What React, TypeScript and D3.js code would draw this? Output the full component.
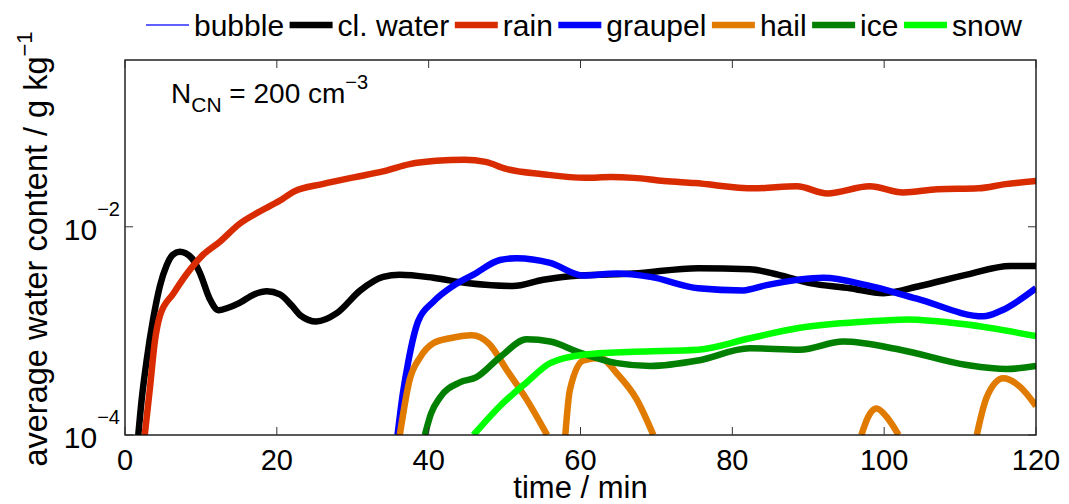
import React, {useEffect, useRef} from 'react';
import * as d3 from 'd3';

// time in minutes, values in g/kg
const rainT = [2.6, 3.3, 3.95, 4.6, 6.4, 8.1, 10.3, 12.5, 15.1, 17.8, 20.8, 22.3, 26, 30.3, 34, 37.5, 41, 44.7, 47.5, 50.2, 55, 60.6, 64, 67, 71, 75, 82.9, 88.5, 92.5, 98.1, 102.5, 107, 112.4, 116, 120];
const rainV = [1.0e-4, 2.9e-4, 8.1e-4, 1.4e-3, 2.3e-3, 3.5e-3, 5.4e-3, 7.2e-3, 1.07e-2, 1.41e-2, 1.86e-2, 2.19e-2, 2.57e-2, 3.0e-2, 3.4e-2, 4.0e-2, 4.3e-2, 4.4e-2, 4.2e-2, 3.6e-2, 3.2e-2, 2.95e-2, 3.0e-2, 2.95e-2, 2.75e-2, 2.63e-2, 2.34e-2, 2.45e-2, 2.09e-2, 2.45e-2, 2.14e-2, 2.29e-2, 2.34e-2, 2.57e-2, 2.75e-2];

const cloudT = [1.75, 2.2, 2.85, 3.7, 4.6, 5.5, 6.3, 7.2, 8.8, 9.9, 11.2, 12.3, 13.5, 15.1, 17, 18.7, 20.4, 22, 23.1, 25.2, 27.9, 31, 34, 36.2, 40.6, 45, 51.1, 55.1, 59.9, 66.9, 75.5, 82.3, 86, 90.2, 95.5, 99.9, 104.7, 110.9, 116.6, 120];
const cloudV = [1.0e-4, 2.2e-4, 5.2e-4, 1.29e-3, 2.7e-3, 4.3e-3, 5.4e-3, 5.75e-3, 5.0e-3, 3.55e-3, 2.0e-3, 1.58e-3, 1.66e-3, 1.86e-3, 2.24e-3, 2.4e-3, 2.24e-3, 1.74e-3, 1.41e-3, 1.23e-3, 1.48e-3, 2.45e-3, 3.3e-3, 3.47e-3, 3.24e-3, 2.88e-3, 2.7e-3, 3.1e-3, 3.4e-3, 3.55e-3, 4.0e-3, 3.9e-3, 3.47e-3, 2.88e-3, 2.57e-3, 2.3e-3, 2.7e-3, 3.47e-3, 4.2e-3, 4.2e-3];

const graupelT = [35.9, 36.6, 37.3, 38.6, 40.6, 43.2, 45.9, 49.4, 51.6, 56, 60.4, 64.8, 69.2, 75.5, 81.4, 84.5, 92, 97.7, 104.3, 113.1, 115.3, 120];
const graupelV = [1.0e-4, 2.5e-4, 5.0e-4, 1.23e-3, 1.9e-3, 2.7e-3, 3.47e-3, 4.8e-3, 5.0e-3, 4.5e-3, 3.4e-3, 3.55e-3, 3.3e-3, 2.57e-3, 2.45e-3, 2.75e-3, 3.24e-3, 2.75e-3, 2.04e-3, 1.38e-3, 1.55e-3, 2.57e-3];

// hail comes and goes: null marks a gap
const hailT = [36.2, 37.5, 38.9, 40.6, 42.8, 45.7, 47.9, 50.3, 52.9, 55.6, 56.8, 58, 58.6, 60.4, 62.6, 64.8, 67.4, 69.6, 83, 97, 97.9, 99, 100.3, 101.9, 107, 112.2, 113.5, 115.7, 117.9, 120];
const hailV = [1.0e-4, 3.4e-4, 5.6e-4, 7.6e-4, 8.5e-4, 9.1e-4, 7.6e-4, 4.2e-4, 2.2e-4, 1.0e-4, null, 1.0e-4, 2.7e-4, 5.2e-4, 5.5e-4, 3.9e-4, 2.2e-4, 1.0e-4, null, 1.0e-4, 1.5e-4, 1.8e-4, 1.5e-4, 1.0e-4, null, 1.0e-4, 2.3e-4, 3.5e-4, 2.9e-4, 1.9e-4];

const iceT = [39.5, 40.3, 41.5, 44.1, 46.3, 49.4, 52.9, 56, 59.9, 64.8, 69.2, 75.5, 82.3, 88.9, 94.6, 102.1, 110.9, 116.1, 120];
const iceV = [1.0e-4, 1.6e-4, 2.3e-4, 3.2e-4, 3.6e-4, 5.6e-4, 8.3e-4, 7.9e-4, 6.2e-4, 4.9e-4, 4.6e-4, 5.2e-4, 6.8e-4, 6.6e-4, 7.9e-4, 6.6e-4, 4.7e-4, 4.3e-4, 4.6e-4];

const snowT = [45.9, 49.4, 52.9, 56, 60.4, 67, 75.5, 82.3, 88.9, 97.7, 103, 110.9, 120];
const snowV = [1.0e-4, 1.9e-4, 3.2e-4, 4.9e-4, 5.9e-4, 6.3e-4, 6.6e-4, 8.5e-4, 1.07e-3, 1.23e-3, 1.29e-3, 1.15e-3, 8.9e-4];

const seriesNames = ['bubble', 'cl. water', 'rain', 'graupel', 'hail', 'ice', 'snow'];
const seriesColors = ['#2b2bff', '#000000', '#d92b00', '#0000ff', '#e07b00', '#007f00', '#00ff00'];
const seriesTimes: number[][] = [[], cloudT, rainT, graupelT, hailT, iceT, snowT];
const seriesValues: (number | null)[][] = [[], cloudV, rainV, graupelV, hailV, iceV, snowV];

const xTicks = [0, 20, 40, 60, 80, 100, 120];
const yTicks = [1e-4, 1e-2];
const yTickExp = ['\u22124', '\u22122'];

const W = 1069;
const H = 504;
const FONT = '"Liberation Sans", Arial, Helvetica, sans-serif';

const App: React.FC = () => {
  const svgRef = useRef<SVGSVGElement | null>(null);

  useEffect(() => {
    if (!svgRef.current) return;
    const svg = d3.select(svgRef.current);
    svg.selectAll('*').remove();

    const left = 125;
    const right = 1036;
    const top = 60;
    const bottom = 435;

    const x = d3.scaleLinear().domain([0, 120]).range([left, right]);
    const y = d3.scaleLog().domain([1e-4, 0.4]).range([bottom, top]);

    svg
      .append('defs')
      .append('clipPath')
      .attr('id', 'plotclip')
      .append('rect')
      .attr('x', left)
      .attr('y', top)
      .attr('width', right - left)
      .attr('height', bottom - top);

    const lines = svg.append('g').attr('clip-path', 'url(#plotclip)');
    seriesNames.forEach((name, i) => {
      const ts = seriesTimes[i];
      if (!ts.length) return;
      const pts = ts.map((t, j) => ({t, v: seriesValues[i][j]}));
      const line = d3
        .line<{t: number; v: number | null}>()
        .defined((d) => d.v != null)
        .x((d) => x(d.t))
        .y((d) => y(d.v as number))
        .curve(d3.curveMonotoneX);
      lines
        .append('path')
        .attr('d', line(pts))
        .attr('fill', 'none')
        .attr('stroke', seriesColors[i])
        .attr('stroke-width', 6.5)
        .attr('stroke-linejoin', 'round');
    });

    // box
    svg
      .append('rect')
      .attr('x', left)
      .attr('y', top)
      .attr('width', right - left)
      .attr('height', bottom - top)
      .attr('fill', 'none')
      .attr('stroke', '#000')
      .attr('stroke-width', 1.3);

    const tickLen = 8;
    const ticks = svg.append('g').attr('stroke', '#333').attr('stroke-width', 1);
    xTicks.forEach((t) => {
      ticks.append('line').attr('x1', x(t)).attr('x2', x(t)).attr('y1', bottom).attr('y2', bottom - tickLen);
      ticks.append('line').attr('x1', x(t)).attr('x2', x(t)).attr('y1', top).attr('y2', top + tickLen);
    });
    yTicks.forEach((v) => {
      ticks.append('line').attr('x1', left).attr('x2', left + tickLen).attr('y1', y(v)).attr('y2', y(v));
      ticks.append('line').attr('x1', right).attr('x2', right - tickLen).attr('y1', y(v)).attr('y2', y(v));
    });

    const labels = svg.append('g').attr('font-family', FONT).attr('fill', '#000');

    xTicks.forEach((t) => {
      labels
        .append('text')
        .attr('x', x(t))
        .attr('y', bottom + 35)
        .attr('text-anchor', 'middle')
        .attr('font-size', 29)
        .text(t);
    });

    yTicks.forEach((v, i) => {
      const txt = labels
        .append('text')
        .attr('x', 120)
        .attr('y', y(v) + 13)
        .attr('text-anchor', 'end')
        .attr('font-size', 30);
      txt.append('tspan').text('10');
      txt.append('tspan').attr('font-size', 20).attr('dy', -24).text(yTickExp[i]);
    });

    labels
      .append('text')
      .attr('x', (left + right) / 2)
      .attr('y', 498)
      .attr('text-anchor', 'middle')
      .attr('font-size', 31)
      .text('time / min');

    const yl = labels
      .append('text')
      .attr('transform', `translate(47,249) rotate(-90)`)
      .attr('text-anchor', 'middle')
      .attr('font-size', 32.5);
    yl.append('tspan').text('average water content / g kg');
    yl.append('tspan').attr('font-size', 22).attr('dy', -15).text('\u22121');

    // annotation
    const ann = labels.append('text').attr('x', 171).attr('y', 103).attr('font-size', 28);
    ann.append('tspan').text('N');
    ann.append('tspan').attr('font-size', 21).attr('dy', 9).text('CN');
    ann.append('tspan').attr('dy', -9).text(' = 200 cm');
    ann.append('tspan').attr('font-size', 20).attr('dy', -14).text('\u22123');

    // legend
    const leg = svg.append('g').attr('font-family', FONT);
    const lineLen = 43;
    const gapText = 5;
    const gapItem = 5.5;
    let cx = 146;
    seriesNames.forEach((name, i) => {
      leg
        .append('line')
        .attr('x1', cx)
        .attr('x2', cx + lineLen)
        .attr('y1', 25)
        .attr('y2', 25)
        .attr('stroke', seriesColors[i])
        .attr('stroke-width', i === 0 ? 1.5 : 6.5);
      const tx = leg
        .append('text')
        .attr('x', cx + lineLen + gapText)
        .attr('y', 36)
        .attr('font-size', 30)
        .attr('fill', '#000')
        .text(name);
      const w = (tx.node() as SVGTextElement).getComputedTextLength();
      cx += lineLen + gapText + w + gapItem;
    });
  }, []);

  return (
    <svg
      ref={svgRef}
      width={W}
      height={H}
      style={{position: 'absolute', left: 0, top: 0, background: '#fff'}}
    />
  );
};

export default App;
